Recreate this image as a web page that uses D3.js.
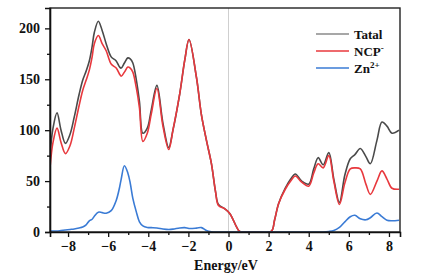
<!DOCTYPE html>
<html><head><meta charset="utf-8">
<script src="https://cdn.jsdelivr.net/npm/d3@7/dist/d3.min.js"></script>
<style>html,body{margin:0;padding:0;background:#fff;}svg{display:block;}
svg text{font-family:"Liberation Serif","DejaVu Serif",serif !important;font-weight:bold;}</style>
</head><body><div id="chart"></div>
<script>
const energy = [-8.9,-8.75,-8.55,-8.35,-8.13,-7.9,-7.69,-7.45,-7.27,-7.1,-6.94,-6.8,-6.69,-6.49,-6.3,-6.1,-5.85,-5.6,-5.43,-5.35,-5.19,-5.02,-4.9,-4.77,-4.6,-4.44,-4.27,-4.05,-3.85,-3.57,-3.27,-2.98,-2.77,-2.43,-2.18,-1.97,-1.6,-1.35,-1.1,-0.85,-0.65,-0.5,-0.2,0.07,0.4,0.56,1.0,1.5,2.13,2.3,2.5,2.83,3.1,3.33,3.65,4.0,4.25,4.47,4.72,5.0,5.25,5.53,5.8,6.07,6.3,6.57,6.85,7.07,7.4,7.65,7.9,8.15,8.5];
const total = [75,102,117,100,87,96,113,135,149,158,168,182,196,207,198,185,172,168,162,161,166,171,170,166,150,128,97,102,120,144,107,83,100,136,169,189,152,115,90,67,40,27,23,18,5,0.5,0,0,0.5,12,28,43,52,57,50,47,62,73,66,78,52,29,56,72,76,82,74,67,90,108,104,97,100];
const ncp = [63,88,102,88,77,85,102,124,139,149,159,172,185,193,185,178,165,161,155,153,157,162,161,157,142,122,89,97,116,141,104,81,100,136,169,189,152,115,90,67,40,26,23,18,5,0.5,0,0,0.5,12,28,42,50,55,49,45,58,67,63,75,50,27,48,62,63,62,47,37,50,60,52,43,42];
const zn = [1,1,1,1.5,2,2.5,3,4,5,7,11,12.5,15.5,19.5,19,18.5,21,31,44,52,65,58,48,33,20,10,6,4.5,4.3,4,3,2.5,2.8,4,4.3,3.5,3.8,4.3,1.5,0.3,0,0,0,0,0,0,0,0,0,0,0,0,0,0,0,0,0,0,0,0.5,1.5,4.5,10,15,16.4,13,12,14,18.7,15,11.5,11,11.5];
const xTicks = [-8,-6,-4,-2,0,2,4,6,8];
const yTicks = [0,50,100,150,200];
const seriesNames = ["Tatal","NCP","Zn"];
const seriesSup = ["","-","2+"];
const colors = ["#4a4a4a","#e8383d","#3a7bd5"];
const legendColors = ["#8a8a8a","#e8383d","#3a7bd5"];

const W=424,H=280, m={l:50,r:24,t:8,b:48};
const svg=d3.select("#chart").append("svg").attr("width",W).attr("height",H);
const x=d3.scaleLinear().domain([-8.9,8.55]).range([m.l,W-m.r]);
const y=d3.scaleLinear().domain([0,220]).range([H-m.b,m.t]);

// Fermi line
svg.append("line").attr("x1",x(0)).attr("x2",x(0)).attr("y1",m.t).attr("y2",H-m.b)
  .attr("stroke","#cfcfcf").attr("stroke-width",1);

const g=svg.append("g");
const defs=svg.append("defs");
defs.append("clipPath").attr("id","clip").append("rect")
  .attr("x",m.l).attr("y",m.t).attr("width",W-m.r-m.l).attr("height",H-m.b-m.t);
const line=(vals)=>d3.line().x((d,i)=>x(energy[i])).y(d=>y(d)).curve(d3.curveCatmullRom.alpha(0.5))(vals);
[total,ncp,zn].forEach((vals,k)=>{
  g.append("path").attr("d",line(vals)).attr("fill","none").attr("stroke",colors[k])
   .attr("stroke-width",1.6).attr("clip-path","url(#clip)");
});

// frame
svg.append("rect").attr("x",m.l).attr("y",m.t).attr("width",W-m.r-m.l).attr("height",H-m.b-m.t)
  .attr("fill","none").attr("stroke","#222").attr("stroke-width",1.4);

// axes
svg.append("g").attr("transform",`translate(0,${H-m.b})`)
  .call(d3.axisBottom(x).tickValues(xTicks).tickSize(5).tickPadding(4));
svg.append("g").attr("transform",`translate(0,${H-m.b})`)
  .call(d3.axisBottom(x).tickValues(d3.range(-7,9,2)).tickSize(3).tickFormat(""))
  .call(s=>s.select(".domain").remove());
svg.append("g").attr("transform",`translate(${m.l},0)`)
  .call(d3.axisLeft(y).tickValues(yTicks).tickSize(5).tickPadding(5));
svg.append("g").attr("transform",`translate(${m.l},0)`)
  .call(d3.axisLeft(y).tickValues([25,75,125,175]).tickSize(3).tickFormat(""))
  .call(s=>s.select(".domain").remove());
svg.selectAll(".domain").attr("stroke","#111").attr("stroke-width",1.6);
svg.selectAll(".tick line").attr("stroke","#111").attr("stroke-width",1.3);
svg.selectAll(".tick text").attr("font-size",14).attr("fill","#111");

svg.append("text").attr("x",226).attr("y",270).attr("text-anchor","middle")
  .attr("font-size",14).attr("fill","#111").text("Energy/eV");

// legend
seriesNames.forEach((n,k)=>{
  const ly=34+k*17;
  svg.append("line").attr("x1",316).attr("x2",349).attr("y1",ly).attr("y2",ly)
    .attr("stroke",legendColors[k]).attr("stroke-width",1.6);
  const t=svg.append("text").attr("x",354).attr("y",ly+4.5)
    .attr("font-size",13).attr("fill","#111");
  t.append("tspan").text(n);
  if(seriesSup[k]) t.append("tspan").attr("font-size",9).attr("dy",-5).text(seriesSup[k]);
});
</script></body></html>
